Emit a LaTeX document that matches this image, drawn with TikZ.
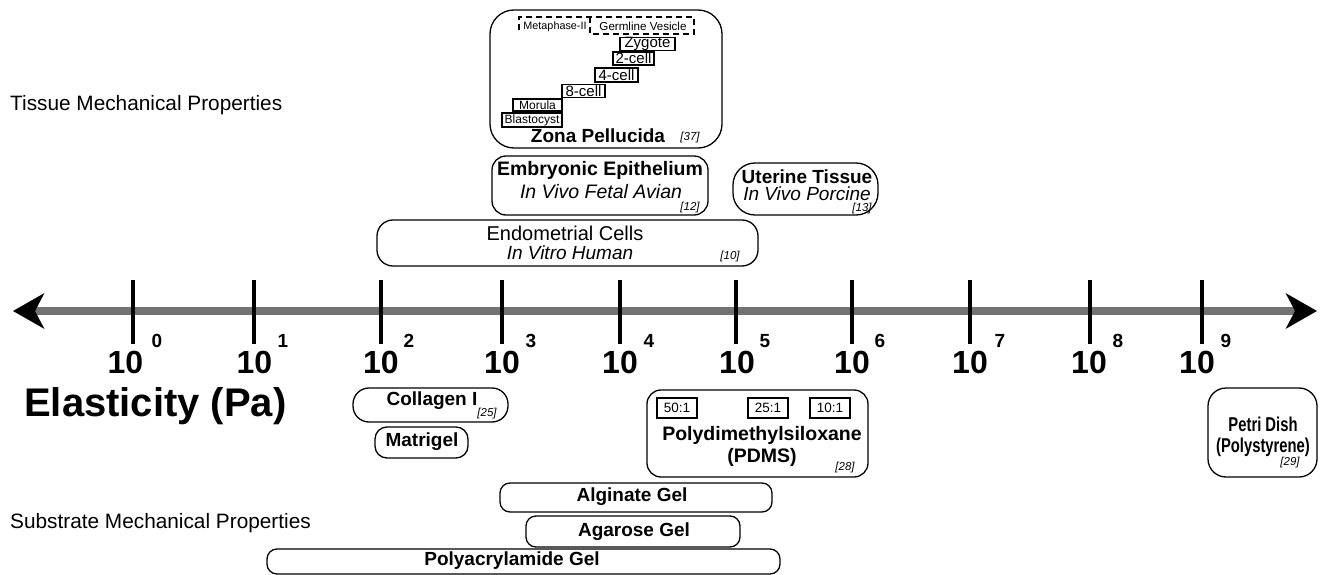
\documentclass[tikz,border=0pt]{standalone}
\usepackage{fontspec}
\setmainfont{Liberation Sans}
\newfontfamily\narrowfont[FakeStretch=0.74]{Liberation Sans}
\usetikzlibrary{arrows.meta}
\definecolor{axisgray}{RGB}{115,115,115}
\newcommand\fsz[1]{\fontsize{#1}{#1}\selectfont}
\begin{document}
\begin{tikzpicture}[x=1pt,y=-1pt,
  rbox/.style={draw=black, line width=1.3pt, inner sep=0pt},
  sbox/.style={draw=black, line width=1.2pt, inner sep=0pt},
  txt/.style={inner sep=0pt, text=black},
  bt/.style={txt, font=\fsz{19}\bfseries},
  it/.style={txt, font=\fsz{19.5}\itshape},
  reft/.style={txt, font=\fsz{11.5}\itshape},
  tickst/.style={line width=3.5pt, black},
  tenst/.style={txt, font=\fsz{32}\bfseries},
  supst/.style={txt, font=\fsz{19}\bfseries}
]
\useasboundingbox (0,0) rectangle (1320,575);
\fill[white] (0,0) rectangle (1320,575);

% side titles
\node[txt, anchor=west, font=\fsz{20.8}] (tissue) at (10,105) {Tissue Mechanical Properties};
\node[txt, anchor=west, font=\fsz{20.8}] (substrate) at (10,523) {Substrate Mechanical Properties};
\node[txt, anchor=west, font=\fsz{40}\bfseries] (elast) at (24,406) {Elasticity (Pa)};

% axis
\coordinate (axL) at (13,311);
\coordinate (axR) at (1317,311);
\draw[line width=8pt, axisgray,
  {Stealth[length=31pt,width=35pt,inset=9pt,color=black]}-{Stealth[length=31pt,width=35pt,inset=9pt,color=black]}]
  (axL) -- (axR);
\foreach \x/\tx/\sx/\e [count=\i] in {133/125.5/157/0,254/254.5/283/1,381/381/409/2,502/502/531/3,620/620/649/4,736/737/765/5,852/852/880/6,970/970/1000/7,1090/1089/1118/8,1202/1197/1226/9}{
  \coordinate (tt\i) at (\x,280);
  \coordinate (tb\i) at (\x,344);
  \draw[tickst] (tt\i) -- (tb\i);
  \node[tenst] (ten\i) at (\tx,362) {10};
  \node[supst] (sup\i) at (\sx,341) {\e};
}

% Zona pellucida
\node[rbox, rounded corners=24pt, minimum width=232pt, minimum height=138pt] (zona) at (606,79) {};
\coordinate (d1) at (519,30);
\coordinate (d2) at (519,17);
\coordinate (d3) at (694,17);
\coordinate (d4) at (694,34);
\coordinate (d5) at (590,34);
\coordinate (d6) at (590,17);
\draw[line width=1.2pt, dash pattern=on 6pt off 4pt] (d1) -- (d2) -- (d3) -- (d4) -- (d5) -- (d6);
\node[txt, font=\fsz{10.8}] (meta) at (555,26.5) {Metaphase-II};
\node[txt, font=\fsz{11.6}] (germ) at (643,26.5) {Germline Vesicle};
\node[sbox, minimum width=55pt, minimum height=13pt] (zyg) at (647.5,44) {};
\node[txt, font=\fsz{15}] at (zyg) {Zygote};
\node[sbox, minimum width=41pt, minimum height=13pt] (c2) at (633.5,58.5) {};
\node[txt, font=\fsz{15}] at (c2) {2-cell};
\node[sbox, minimum width=43pt, minimum height=14pt] (c4) at (616.5,75) {};
\node[txt, font=\fsz{15}] at (c4) {4-cell};
\node[sbox, minimum width=43pt, minimum height=13pt] (c8) at (583.5,91) {};
\node[txt, font=\fsz{15}] at (c8) {8-cell};
\node[sbox, minimum width=49pt, minimum height=12pt] (mor) at (537.5,105) {};
\node[txt, font=\fsz{12}] at (mor) {Morula};
\node[sbox, minimum width=60pt, minimum height=14pt] (bla) at (532,120) {};
\node[txt, font=\fsz{12}] at (bla) {Blastocyst};
\node[bt] (zonat) at (598,136) {Zona Pellucida};
\node[reft] (r37) at (690,138) {[37]};

% Embryonic epithelium
\node[rbox, rounded corners=14pt, minimum width=216pt, minimum height=59pt] (embryo) at (600,185.5) {};
\node[bt, font=\fsz{19.5}\bfseries] (embt) at (600,170) {Embryonic Epithelium};
\node[it] (embi) at (601,192) {In Vivo Fetal Avian};
\node[reft] (r12) at (690,208) {[12]};

% Uterine tissue
\node[rbox, rounded corners=22pt, minimum width=145pt, minimum height=52pt] (uter) at (805.5,189) {};
\node[bt] (utert) at (807,177) {Uterine Tissue};
\node[it, font=\fsz{19}\itshape] (uteri) at (807,194) {In Vivo Porcine};
\node[reft] (r13) at (862,209) {[13]};

% Endometrial cells
\node[rbox, rounded corners=16pt, minimum width=381pt, minimum height=46pt] (endo) at (567.5,243) {};
\node[txt, font=\fsz{20}] (endot) at (565,233) {Endometrial Cells};
\node[it, font=\fsz{19}\itshape] (endoi) at (570,252.5) {In Vitro Human};
\node[reft] (r10) at (730,257) {[10]};

% Collagen, Matrigel
\node[rbox, rounded corners=16pt, minimum width=155pt, minimum height=34pt] (coll) at (430.5,405) {};
\node[bt] (collt) at (432,401) {Collagen I};
\node[reft] (r25) at (487,414) {[25]};
\node[rbox, rounded corners=12pt, minimum width=93pt, minimum height=31pt] (matr) at (421.5,442.5) {};
\node[bt] (matrt) at (422,442) {Matrigel};

% PDMS
\node[rbox, rounded corners=14pt, minimum width=221pt, minimum height=87pt] (pdms) at (757.5,433.5) {};
\node[sbox, minimum width=40pt, minimum height=20pt, font=\fsz{13.5}] (p50) at (677,408) {50:1};
\node[sbox, minimum width=40pt, minimum height=20pt, font=\fsz{13.5}] (p25) at (768,408) {25:1};
\node[sbox, minimum width=40pt, minimum height=20pt, font=\fsz{13.5}] (p10) at (830,408) {10:1};
\node[bt, font=\fsz{19.5}\bfseries] (pdmst) at (762,435) {Polydimethylsiloxane};
\node[bt, font=\fsz{19.5}\bfseries] (pdmsa) at (762,457) {(PDMS)};
\node[reft] (r28) at (845,468) {[28]};

% Petri dish
\node[rbox, rounded corners=18pt, minimum width=109pt, minimum height=89pt] (petri) at (1262.5,432.5) {};
\node[txt, font=\fsz{20}\narrowfont\bfseries] (petrit) at (1263,424) {Petri Dish};
\node[txt, font=\fsz{20}\narrowfont\bfseries] (petria) at (1263,447) {(Polystyrene)};
\node[reft] (r29) at (1290,463) {[29]};

% Gels
\node[rbox, rounded corners=10pt, minimum width=272pt, minimum height=29pt] (alg) at (636,497.5) {};
\node[bt] (algt) at (632,497) {Alginate Gel};
\node[rbox, rounded corners=10pt, minimum width=214pt, minimum height=31pt] (aga) at (633,531.5) {};
\node[bt] (agat) at (634,532) {Agarose Gel};
\node[rbox, rounded corners=10pt, minimum width=513pt, minimum height=25pt] (poly) at (523.5,561.5) {};
\node[bt] (polyt) at (512,561) {Polyacrylamide Gel};
\end{tikzpicture}
\end{document}
